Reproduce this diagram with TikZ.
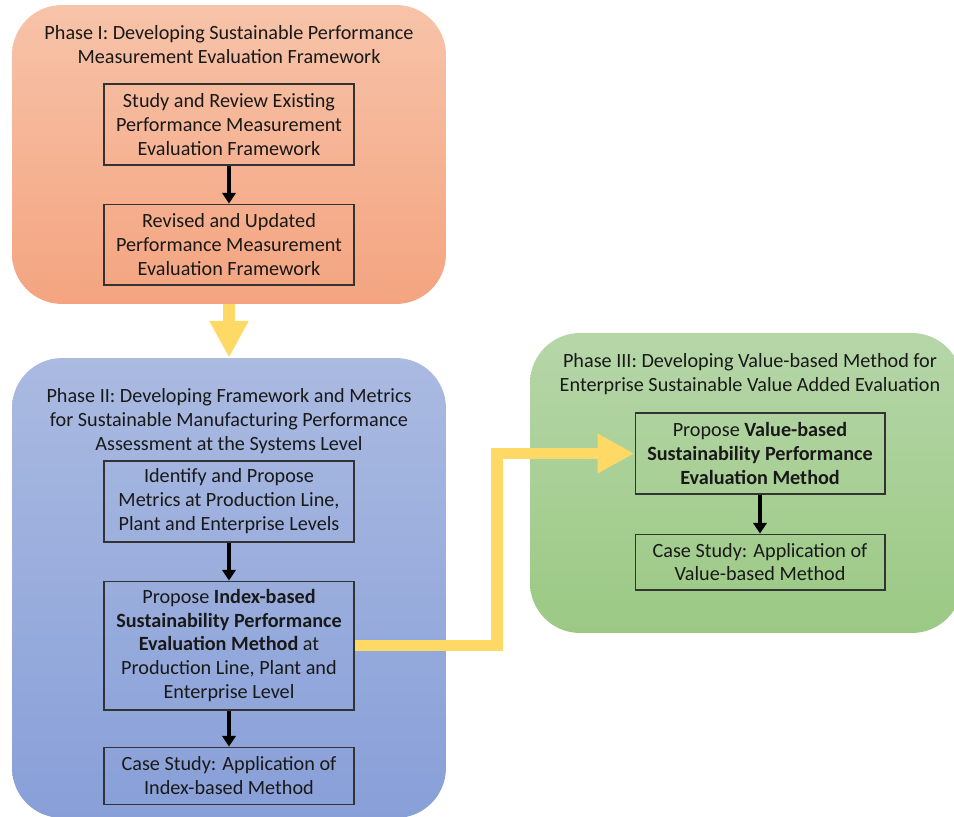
\documentclass[tikz,border=0pt]{standalone}
\usepackage{fontspec}
\setmainfont{Carlito}
\usetikzlibrary{positioning,arrows.meta}

\definecolor{oneTop}{HTML}{F7C3A9}
\definecolor{oneBot}{HTML}{F4A480}
\definecolor{twoTop}{HTML}{AABAE1}
\definecolor{twoBot}{HTML}{889FD8}
\definecolor{threeTop}{HTML}{B6D6A8}
\definecolor{threeBot}{HTML}{9BC984}
\definecolor{arrowYellow}{HTML}{FFD966}

\tikzset{
  phase/.style={rectangle, rounded corners=1cm, inner sep=0pt},
  title/.style={align=center, inner sep=0pt, text=black!90},
  stepbox/.style={rectangle, draw=black!80, line width=0.6pt, minimum width=5cm, align=center, inner sep=0pt, text=black!90},
  flow/.style={-{Triangle[width=7.5pt,length=6pt]}, line width=2.2pt},
  bigarrow/.style={-{Triangle[width=21pt,length=21pt]}, line width=6.8pt, draw=arrowYellow, line join=miter}
}

\begin{document}
\begin{tikzpicture}[x=0.02cm, y=-0.02cm, font=\fontsize{11.5pt}{13.6pt}\selectfont]
    \useasboundingbox (0,0) rectangle (954,817);

    % Phase I
    \node (phase1) [phase, top color=oneTop, bottom color=oneBot, minimum width=8.68cm, minimum height=5.98cm] at (229,154.5) {};
    \node (title1) [title] at (229,45) {Phase I: Developing Sustainable Performance\\ Measurement Evaluation Framework};
    \node (study) [stepbox, minimum height=1.62cm] at (229,124.5) {Study and Review Existing\\ Performance Measurement\\ Evaluation Framework};
    \node (revised) [stepbox, minimum height=1.62cm, below=0.76cm of study] {Revised and Updated\\ Performance Measurement\\ Evaluation Framework};

    % Phase II
    \node (phase2) [phase, top color=twoTop, bottom color=twoBot, minimum width=8.68cm, minimum height=9.2cm] at (229,588) {};
    \node (title2) [title] at (229,421) {Phase II: Developing Framework and Metrics\\ for Sustainable Manufacturing Performance\\ Assessment at the Systems Level};
    \node (metrics) [stepbox, minimum height=1.62cm] at (229,501.5) {Identify and Propose\\ Metrics at Production Line,\\ Plant and Enterprise Levels};
    \node (index) [stepbox, minimum height=2.58cm, below=0.76cm of metrics] {Propose \textbf{Index-based}\\ \textbf{Sustainability Performance}\\ \textbf{Evaluation Method} at\\ Production Line, Plant and\\ Enterprise Level};
    \node (caseindex) [stepbox, minimum height=1.14cm, below=0.72cm of index] {Case Study: Application of\\ Index-based Method};

    % Phase III
    \node (phase3) [phase, top color=threeTop, bottom color=threeBot, minimum width=8.64cm, minimum height=6cm] at (746,483) {};
    \node (title3) [title] at (750,374) {Phase III: Developing Value-based Method for\\ Enterprise Sustainable Value Added Evaluation};
    \node (value) [stepbox, minimum height=1.62cm] at (760,453.5) {Propose \textbf{Value-based}\\ \textbf{Sustainability Performance}\\ \textbf{Evaluation Method}};
    \node (casevalue) [stepbox, minimum height=1.12cm, below=0.78cm of value] {Case Study: Application of\\ Value-based Method};

    \coordinate (bend) at (497,0);

    \draw[flow] (study) -- (revised);
    \draw[flow] (metrics) -- (index);
    \draw[flow] (index) -- (caseindex);
    \draw[flow] (value) -- (casevalue);

    \draw[bigarrow] (phase1.south) -- (phase2.north);
    \draw[bigarrow] (index.east) -| (bend |- value.west) -- (value.west);
\end{tikzpicture}
\end{document}
